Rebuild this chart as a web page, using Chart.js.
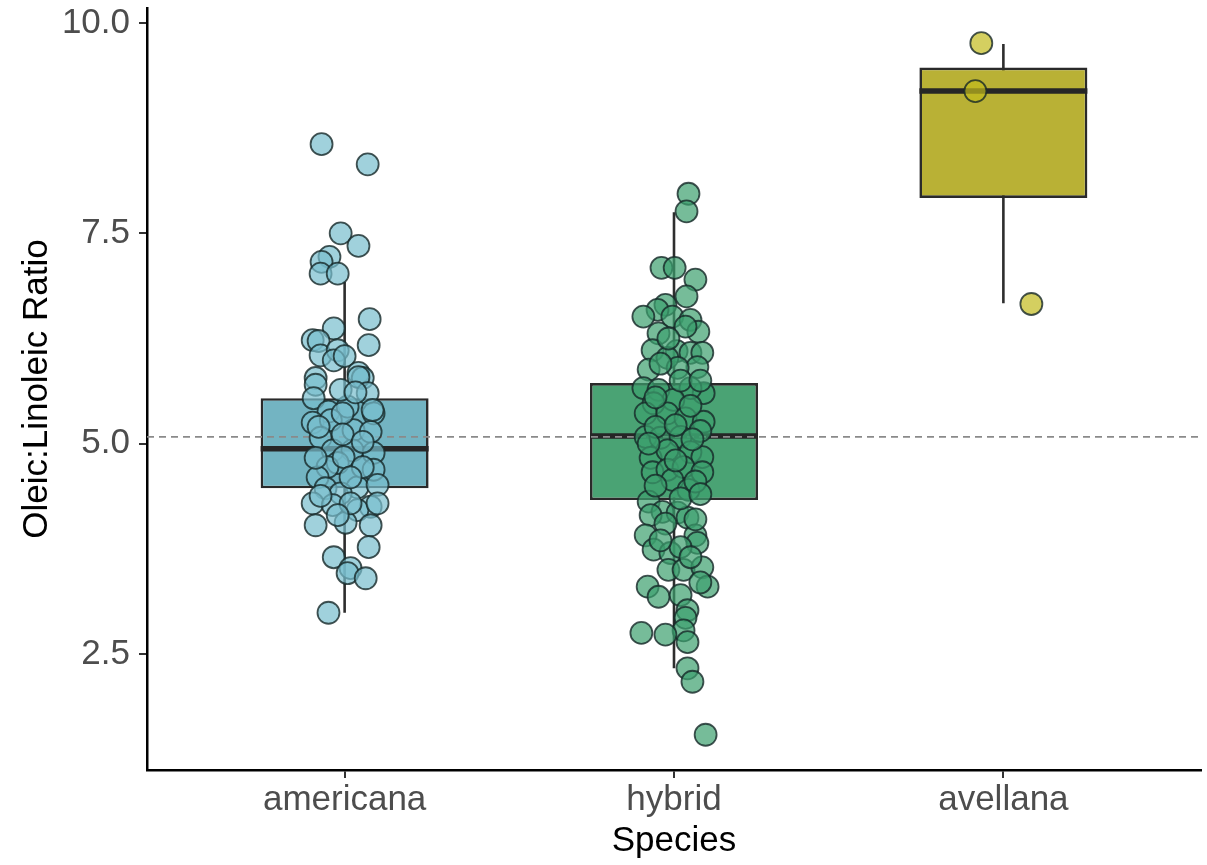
<!DOCTYPE html>
<html>
<head>
<meta charset="utf-8">
<script src="https://cdn.jsdelivr.net/npm/chart.js@4/dist/chart.umd.min.js"></script>
<style>
  html, body { margin: 0; padding: 0; background: #ffffff; }
  #wrap { width: 1207px; height: 865px; }
</style>
</head>
<body>
<div id="wrap"><canvas id="c" width="1207" height="865"></canvas></div>
<script>
// ---- data ----
const categories = ['americana', 'hybrid', 'avellana'];
const yTicks = [2.5, 5.0, 7.5, 10.0];

const q1 = [4.47, 4.33, 7.92];
const medians = [4.94, 5.09, 9.19];
const q3 = [5.54, 5.72, 9.47];
const whiskerLow = [2.99, 2.33, 6.67];
const whiskerHigh = [6.92, 7.75, 9.75];
const referenceLine = 5.08;

const americanaValues = [
  8.56, 8.32, 7.50, 7.35, 7.22, 7.16, 7.02, 7.02, 6.48, 6.37,
  6.23, 6.22, 6.05, 6.11, 5.99, 6.04, 6.17, 5.84, 5.78, 5.78,
  5.70, 5.79, 5.60, 5.54, 5.38, 5.44, 5.36, 5.25, 5.28, 5.16,
  5.14, 5.07, 4.92, 4.92, 4.89, 4.77, 4.72, 4.69, 4.60, 4.48,
  4.51, 4.47, 4.41, 4.29, 4.27, 4.25, 4.21, 4.03, 4.06, 4.03,
  3.77, 3.65, 3.52, 3.46, 3.40, 2.99,
  5.64, 5.61, 5.40, 5.36, 5.20, 5.11, 5.02, 4.84, 4.83, 4.72,
  4.60, 4.38, 4.29, 4.29, 4.15
];
const americanaJitter = [
  -0.070, 0.070, -0.012, 0.042, -0.046, -0.070, -0.073, -0.021, 0.076, -0.033,
  -0.097, -0.079, -0.073, -0.021, -0.033, 0.000, 0.073, 0.042, -0.088, 0.055,
  -0.088, 0.042, 0.070, -0.094, -0.049, 0.009, 0.088, -0.097, -0.042, 0.027,
  0.079, -0.073, -0.036, 0.024, 0.088, -0.021, -0.052, 0.088, -0.082, 0.039,
  0.100, -0.058, -0.012, -0.097, -0.036, 0.079, 0.039, -0.088, 0.003, 0.079,
  0.073, -0.033, 0.018, 0.009, 0.064, -0.049,
  -0.012, 0.033, 0.085, -0.006, -0.079, -0.006, 0.055, -0.003, -0.088, 0.055,
  0.018, -0.073, 0.100, 0.018, -0.021
];

const hybridValues = [
  7.97, 7.76, 7.09, 7.09, 6.95, 6.75, 6.65, 6.59, 6.51, 6.51,
  6.47, 6.33, 6.31, 6.39, 6.11, 6.10, 6.08, 6.08, 6.02, 5.88,
  5.91, 5.90, 5.66, 5.64, 5.60, 5.66, 5.52, 5.48,
  5.36, 5.36, 5.30, 5.26, 5.08, 5.07, 5.08, 4.90, 4.84, 4.83,
  4.92, 4.66, 4.69, 4.72, 4.66, 4.57, 4.45, 4.31, 4.19, 4.18,
  4.15, 4.12, 3.91, 3.91, 3.82, 3.74, 3.70, 3.77, 3.50, 3.50,
  3.53, 3.30, 3.30, 3.18, 3.20, 3.02, 2.93, 2.78, 2.75, 2.73,
  2.64, 2.33, 2.17, 1.54,
  5.55, 5.45, 5.15, 5.20, 5.22, 5.05, 5.00, 4.80, 4.55, 4.50,
  4.35, 4.40, 4.05, 4.10, 3.85, 3.65, 3.35, 5.95, 5.75, 6.25, 5.75
];
const hybridJitter = [
  0.044, 0.038, -0.038, 0.002, 0.065, 0.038, -0.026, -0.050, -0.093, -0.005,
  0.050, 0.074, -0.047, 0.035, -0.065, 0.008, 0.050, 0.086, -0.020, -0.077,
  0.071, 0.011, -0.093, -0.047, 0.090, 0.050, -0.002, -0.062,
  -0.086, -0.020, 0.035, 0.090, -0.086, -0.041, 0.020, 0.050, 0.086, -0.071,
  -0.020, -0.065, -0.020, 0.029, 0.086, -0.005, 0.044, -0.077, -0.035, 0.011,
  -0.071, 0.041, -0.086, 0.065, 0.071, -0.062, -0.011, 0.020, -0.017, 0.029,
  0.086, 0.102, -0.080, -0.047, 0.020, 0.041, 0.035, 0.029, -0.099, -0.026,
  0.041, 0.041, 0.056, 0.096,
  -0.056, 0.050, 0.080, -0.056, 0.005, 0.056, -0.077, 0.005, 0.065, -0.056,
  0.020, 0.080, -0.026, 0.065, -0.041, 0.050, 0.080, -0.041, 0.020, -0.017, 0.080
];

const avellanaValues = [9.76, 9.19, 6.66];
const avellanaJitter = [-0.067, -0.085, 0.085];

// ---- styles ----
const FONT = "'Liberation Sans', Arial, Helvetica, sans-serif";
const boxFill = ['#73b4c2', '#4aa374', '#b9b135'];
const pointFill = ['rgba(120,190,205,0.7)', 'rgba(60,160,110,0.7)', 'rgba(194,187,28,0.7)'];
const pointStroke = 'rgba(22,40,40,0.8)';
const boxHalf = 0.255;

// ---- derived structures for the library ----
function points(idx, values, jitter) {
  return values.map((v, i) => ({ x: idx + jitter[i], y: v }));
}
const boxData = categories.map((c, i) => ({ x: i, y: [q1[i], q3[i]] }));
const whiskerData = [];
const medianData = [];
categories.forEach((c, i) => {
  whiskerData.push({ x: i, y: whiskerLow[i] }, { x: i, y: whiskerHigh[i] }, { x: i + 0.5, y: null });
  medianData.push({ x: i - boxHalf, y: medians[i] }, { x: i + boxHalf, y: medians[i] }, { x: i + 0.5, y: null });
});

const ctx = document.getElementById('c').getContext('2d');
new Chart(ctx, {
  type: 'bar',
  data: {
    datasets: [
      { type: 'scatter', label: 'americana', data: points(0, americanaValues, americanaJitter),
        pointRadius: 11, pointBackgroundColor: pointFill[0], pointBorderColor: pointStroke, pointBorderWidth: 1.8, order: 0 },
      { type: 'scatter', label: 'hybrid', data: points(1, hybridValues, hybridJitter),
        pointRadius: 11, pointBackgroundColor: pointFill[1], pointBorderColor: pointStroke, pointBorderWidth: 1.8, order: 0 },
      { type: 'scatter', label: 'avellana', data: points(2, avellanaValues, avellanaJitter),
        pointRadius: 11, pointBackgroundColor: pointFill[2], pointBorderColor: pointStroke, pointBorderWidth: 1.8, order: 0 },
      { type: 'line', label: 'reference', data: [{ x: -0.6, y: referenceLine }, { x: 2.6, y: referenceLine }],
        borderColor: '#8a8a8a', borderWidth: 1.6, borderDash: [7, 5], pointRadius: 0, fill: false, order: 1 },
      { type: 'line', label: 'medians', data: medianData, spanGaps: false,
        borderColor: '#262626', borderWidth: 5.5, pointRadius: 0, fill: false, borderCapStyle: 'butt', order: 2 },
      { type: 'bar', label: 'boxes', data: boxData,
        backgroundColor: boxFill, borderColor: '#2a2a2a', borderWidth: 2.6, borderSkipped: false,
        barPercentage: 0.51, categoryPercentage: 1.0, order: 3 },
      { type: 'line', label: 'whiskers', data: whiskerData, spanGaps: false,
        borderColor: '#2e2e2e', borderWidth: 2.6, pointRadius: 0, fill: false, order: 4 }
    ]
  },
  options: {
    responsive: false,
    animation: false,
    devicePixelRatio: 1,
    layout: { autoPadding: false, padding: { top: 8, right: 6, left: 0, bottom: 0 } },
    plugins: { legend: { display: false }, tooltip: { enabled: false } },
    scales: {
      x: {
        type: 'linear',
        offset: false,
        min: -0.6, max: 2.6,
        afterBuildTicks: (s) => { s.ticks = categories.map((c, i) => ({ value: i })); },
        afterFit: (s) => { s.height = 95; s.paddingLeft = 0; s.paddingRight = 0; },
        grid: { display: true, offset: false, drawOnChartArea: false, drawTicks: true, tickLength: 8, color: '#333333', lineWidth: 2 },
        border: { display: true, color: '#000000', width: 2.5 },
        ticks: {
          padding: 1, color: '#4d4d4d', maxRotation: 0, autoSkip: false,
          font: { family: FONT, size: 35 },
          callback: (v) => categories[Math.round(v)] ?? ''
        },
        title: { display: true, text: 'Species', color: '#000000', font: { family: FONT, size: 35 }, padding: { top: 0, bottom: 3 } }
      },
      y: {
        type: 'linear',
        min: 1.121, max: 10.178,
        afterBuildTicks: (s) => { s.ticks = yTicks.map(v => ({ value: v })); },
        afterFit: (s) => { s.width = 147; s.paddingTop = 0; s.paddingBottom = 0; },
        grid: { display: true, drawOnChartArea: false, drawTicks: true, tickLength: 8, color: '#333333', lineWidth: 2 },
        border: { display: true, color: '#000000', width: 2.5 },
        ticks: {
          padding: 9, color: '#4d4d4d',
          font: { family: FONT, size: 35 },
          callback: (v) => Number(v).toFixed(1)
        },
        title: { display: true, text: 'Oleic:Linoleic Ratio', color: '#000000', font: { family: FONT, size: 35 }, padding: { top: 16, bottom: 0 } }
      }
    }
  }
});
</script>
</body>
</html>
